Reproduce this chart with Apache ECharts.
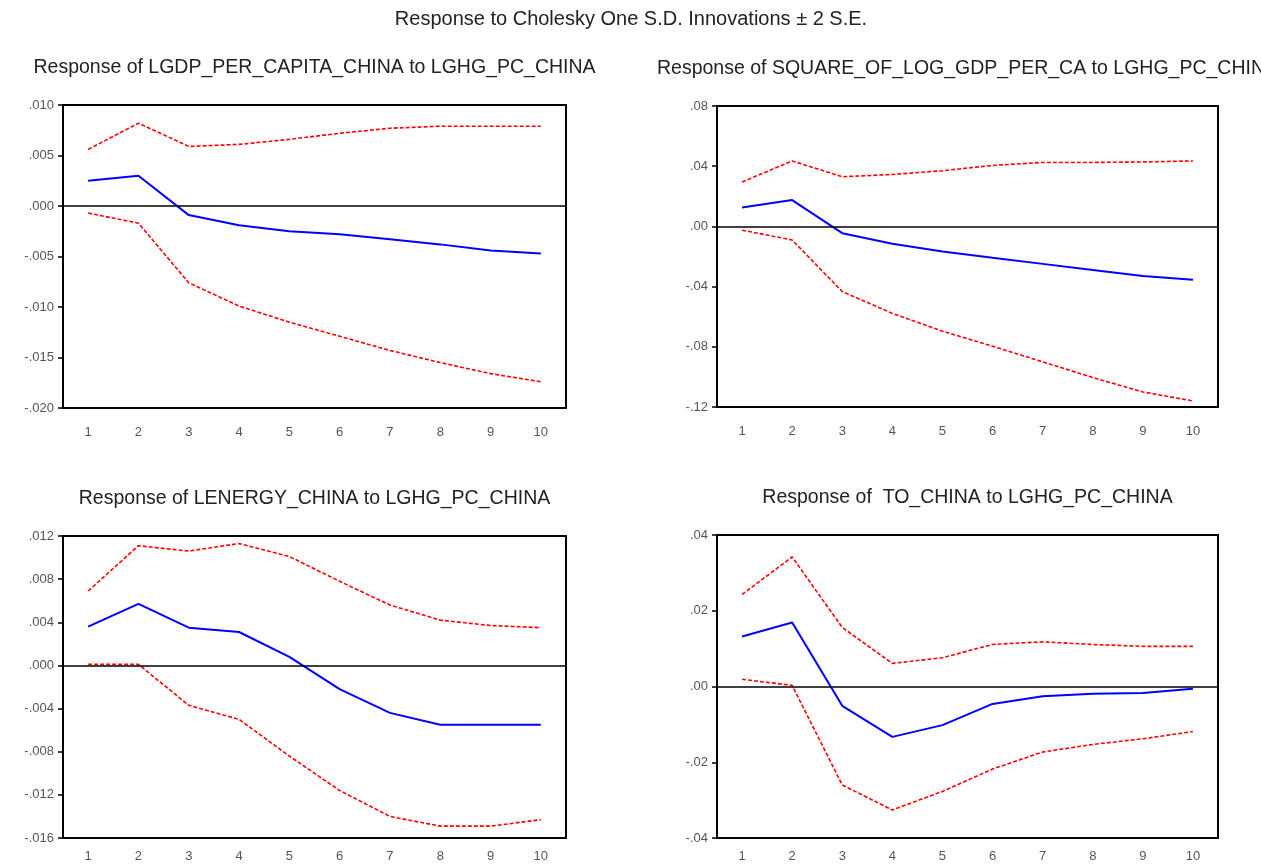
<!DOCTYPE html>
<html>
<head>
<meta charset="utf-8">
<title>Impulse responses</title>
<script src="https://cdn.jsdelivr.net/npm/echarts@6/dist/echarts.min.js"></script>
<style>
  html, body { margin: 0; padding: 0; background: #ffffff; }
  #chart { width: 1261px; height: 865px; }
</style>
</head>
<body>
<div id="chart"></div>
<script>
// Forecast horizon (periods)
const periods = ['1', '2', '3', '4', '5', '6', '7', '8', '9', '10'];

// Response of LGDP_PER_CAPITA_CHINA
const gdpResp  = [0.0025, 0.0030, -0.0009, -0.0019, -0.0025, -0.0028, -0.0033, -0.0038, -0.0044, -0.0047];
const gdpUpper = [0.0056, 0.0082, 0.0059, 0.0061, 0.0066, 0.0072, 0.0077, 0.0079, 0.0079, 0.0079];
const gdpLower = [-0.0007, -0.0017, -0.0076, -0.0099, -0.0115, -0.0129, -0.0143, -0.0155, -0.0166, -0.0174];

// Response of SQUARE_OF_LOG_GDP_PER_CA
const sqResp  = [0.0125, 0.0175, -0.0045, -0.0115, -0.0167, -0.0209, -0.0249, -0.0289, -0.0330, -0.0355];
const sqUpper = [0.0295, 0.0435, 0.0330, 0.0345, 0.0370, 0.0405, 0.0425, 0.0425, 0.0428, 0.0435];
const sqLower = [-0.0025, -0.0090, -0.0433, -0.0578, -0.0696, -0.0796, -0.0900, -0.1004, -0.1100, -0.1160];

// Response of LENERGY_CHINA
const enResp  = [0.0036, 0.0057, 0.0035, 0.0031, 0.0008, -0.0022, -0.0044, -0.0055, -0.0055, -0.0055];
const enUpper = [0.0069, 0.0111, 0.0106, 0.0113, 0.0101, 0.0078, 0.0056, 0.0042, 0.0037, 0.0035];
const enLower = [0.0001, 0.0001, -0.0037, -0.0050, -0.0084, -0.0116, -0.0140, -0.0149, -0.0149, -0.0143];

// Response of TO_CHINA
const toResp  = [0.0132, 0.0169, -0.0051, -0.0133, -0.0102, -0.0046, -0.0026, -0.0019, -0.0017, -0.0006];
const toUpper = [0.0243, 0.0342, 0.0156, 0.0061, 0.0076, 0.0111, 0.0118, 0.0111, 0.0106, 0.0106];
const toLower = [0.0019, 0.0003, -0.0260, -0.0326, -0.0277, -0.0218, -0.0173, -0.0153, -0.0138, -0.0119];

// Panel titles and y-axis ranges
const mainTitle = 'Response to Cholesky One S.D. Innovations \u00b1 2 S.E.';
const panelTitles = [
  'Response of LGDP_PER_CAPITA_CHINA to LGHG_PC_CHINA',
  'Response of SQUARE_OF_LOG_GDP_PER_CA to LGHG_PC_CHINA',
  'Response of LENERGY_CHINA to LGHG_PC_CHINA',
  'Response of  TO_CHINA to LGHG_PC_CHINA'
];
const yMin      = [-0.020, -0.12, -0.016, -0.04];
const yMax      = [0.010, 0.08, 0.012, 0.04];
const yStep     = [0.005, 0.04, 0.004, 0.02];
const yDecimals = [3, 2, 3, 2];

const panels = [
  { resp: gdpResp, upper: gdpUpper, lower: gdpLower },
  { resp: sqResp,  upper: sqUpper,  lower: sqLower },
  { resp: enResp,  upper: enUpper,  lower: enLower },
  { resp: toResp,  upper: toUpper,  lower: toLower }
];

const FONT = '"Liberation Sans", Arial, sans-serif';

// Plot boxes for the 2x2 layout
const boxes = [
  { left: 63,  top: 105, width: 503, height: 303, xLabelGap: 18 },
  { left: 717, top: 106, width: 501, height: 301, xLabelGap: 18 },
  { left: 63,  top: 536, width: 503, height: 302, xLabelGap: 12 },
  { left: 717, top: 535, width: 501, height: 303, xLabelGap: 12 }
];

function tickFormatter(dec) {
  return function (v) {
    if (Math.abs(v) < 1e-12) v = 0;
    return v.toFixed(dec).replace('0.', '.');
  };
}

const grids = [], xAxes = [], yAxes = [], series = [], texts = [];

boxes.forEach(function (b, i) {
  grids.push({
    left: b.left, top: b.top, width: b.width, height: b.height,
    show: true, borderColor: '#000', borderWidth: 2, containLabel: false
  });
  xAxes.push({
    type: 'category', gridIndex: i, data: periods, boundaryGap: true,
    axisLine: { onZero: false, lineStyle: { color: '#000', width: 2 } },
    axisTick: { length: 6, lineStyle: { color: '#000', width: 1.5 } },
    axisLabel: { color: '#555', fontSize: 13, fontFamily: FONT, margin: b.xLabelGap },
    splitLine: { show: false }
  });
  yAxes.push({
    type: 'value', gridIndex: i, min: yMin[i], max: yMax[i], interval: yStep[i],
    axisLine: { show: true, lineStyle: { color: '#000', width: 2 } },
    axisTick: { show: true, length: 5, lineStyle: { color: '#000', width: 1.5 } },
    axisLabel: { color: '#555', fontSize: 13, fontFamily: FONT, margin: 9,
                 formatter: tickFormatter(yDecimals[i]) },
    splitLine: { show: false }
  });

  const p = panels[i];
  series.push({
    type: 'line', xAxisIndex: i, yAxisIndex: i, data: p.upper,
    symbol: 'none', lineStyle: { color: '#ff0000', width: 1.6, type: [4, 2] },
    silent: true
  });
  series.push({
    type: 'line', xAxisIndex: i, yAxisIndex: i, data: p.lower,
    symbol: 'none', lineStyle: { color: '#ff0000', width: 1.6, type: [4, 2] },
    silent: true
  });
  series.push({
    type: 'line', xAxisIndex: i, yAxisIndex: i, data: p.resp,
    symbol: 'none', lineStyle: { color: '#0000ff', width: 2 },
    silent: true,
    markLine: {
      silent: true, symbol: 'none', label: { show: false },
      lineStyle: { color: '#000', width: 1.5, type: 'solid' },
      data: [{ yAxis: 0 }]
    }
  });

  texts.push({
    type: 'text', x: b.left + b.width / 2, y: b.top - 37,
    style: { text: panelTitles[i], fill: '#222', font: '19.5px ' + FONT,
             align: 'center', verticalAlign: 'middle' }
  });
});

texts.push({
  type: 'text', x: 631, y: 19,
  style: { text: mainTitle, fill: '#222', font: '20px ' + FONT,
           align: 'center', verticalAlign: 'middle' }
});

const chart = echarts.init(document.getElementById('chart'), null, { renderer: 'canvas' });
chart.setOption({
  backgroundColor: '#ffffff',
  animation: false,
  grid: grids,
  xAxis: xAxes,
  yAxis: yAxes,
  series: series,
  graphic: texts
});
</script>
</body>
</html>
